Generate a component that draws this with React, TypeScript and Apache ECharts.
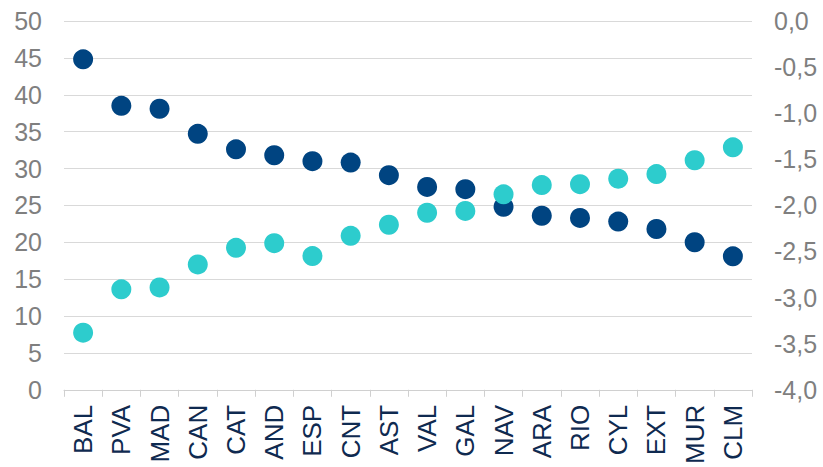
import React, { useEffect, useRef } from "react";
import * as echarts from "echarts";

const categories = ["BAL", "PVA", "MAD", "CAN", "CAT", "AND", "ESP", "CNT", "AST", "VAL", "GAL", "NAV", "ARA", "RIO", "CYL", "EXT", "MUR", "CLM"];
const leftSeries = [44.8, 38.5, 38.1, 34.7, 32.6, 31.8, 31.0, 30.8, 29.1, 27.5, 27.2, 24.8, 23.6, 23.3, 22.8, 21.8, 20.0, 18.1];
const rightSeries = [-3.38, -2.91, -2.89, -2.64, -2.46, -2.41, -2.55, -2.33, -2.21, -2.08, -2.06, -1.88, -1.78, -1.77, -1.71, -1.66, -1.51, -1.37];

export default function App() {
  const ref = useRef<HTMLDivElement>(null);
  useEffect(() => {
    if (!ref.current) return;
    const chart = echarts.init(ref.current, null, { renderer: "svg" });
    const font = "Liberation Sans, Arial, sans-serif";
    chart.setOption({
      animation: false,
      grid: { left: 64, right: 71, top: 21, bottom: 73, containLabel: false },
      xAxis: {
        type: "category",
        data: categories,
        boundaryGap: true,
        axisLine: { show: true, lineStyle: { color: "#d0d0d0", width: 1 } },
        axisTick: { show: true, length: 7, lineStyle: { color: "#d0d0d0" } },
        axisLabel: {
          rotate: 90,
          interval: 0,
          margin: 15,
          color: "#0f2a50",
          fontSize: 26,
          fontFamily: font,
        },
        splitLine: { show: false },
      },
      yAxis: [
        {
          type: "value",
          min: 0,
          max: 50,
          interval: 5,
          axisLine: { show: false },
          axisTick: { show: false },
          axisLabel: { margin: 22, color: "#7f7f7f", fontSize: 25, fontFamily: font },
          splitLine: { show: true, lineStyle: { color: "#d9d9d9", width: 1 } },
        },
        {
          type: "value",
          min: -4,
          max: 0,
          interval: 0.5,
          axisLine: { show: false },
          axisTick: { show: false },
          axisLabel: {
            margin: 22,
            color: "#7f7f7f",
            fontSize: 25,
            fontFamily: font,
            formatter: (v: number) => v.toFixed(1).replace(".", ","),
          },
          splitLine: { show: false },
        },
      ],
      series: [
        {
          type: "scatter",
          yAxisIndex: 0,
          data: leftSeries,
          symbolSize: 20,
          itemStyle: { color: "#004481", opacity: 1 },
        },
        {
          type: "scatter",
          yAxisIndex: 1,
          data: rightSeries,
          symbolSize: 20,
          itemStyle: { color: "#2dcccd", opacity: 1 },
        },
      ],
    });
    return () => chart.dispose();
  }, []);
  return (
    <div
      ref={ref}
      style={{ position: "fixed", left: 0, top: 0, width: 823, height: 467, background: "#fff" }}
    />
  );
}
